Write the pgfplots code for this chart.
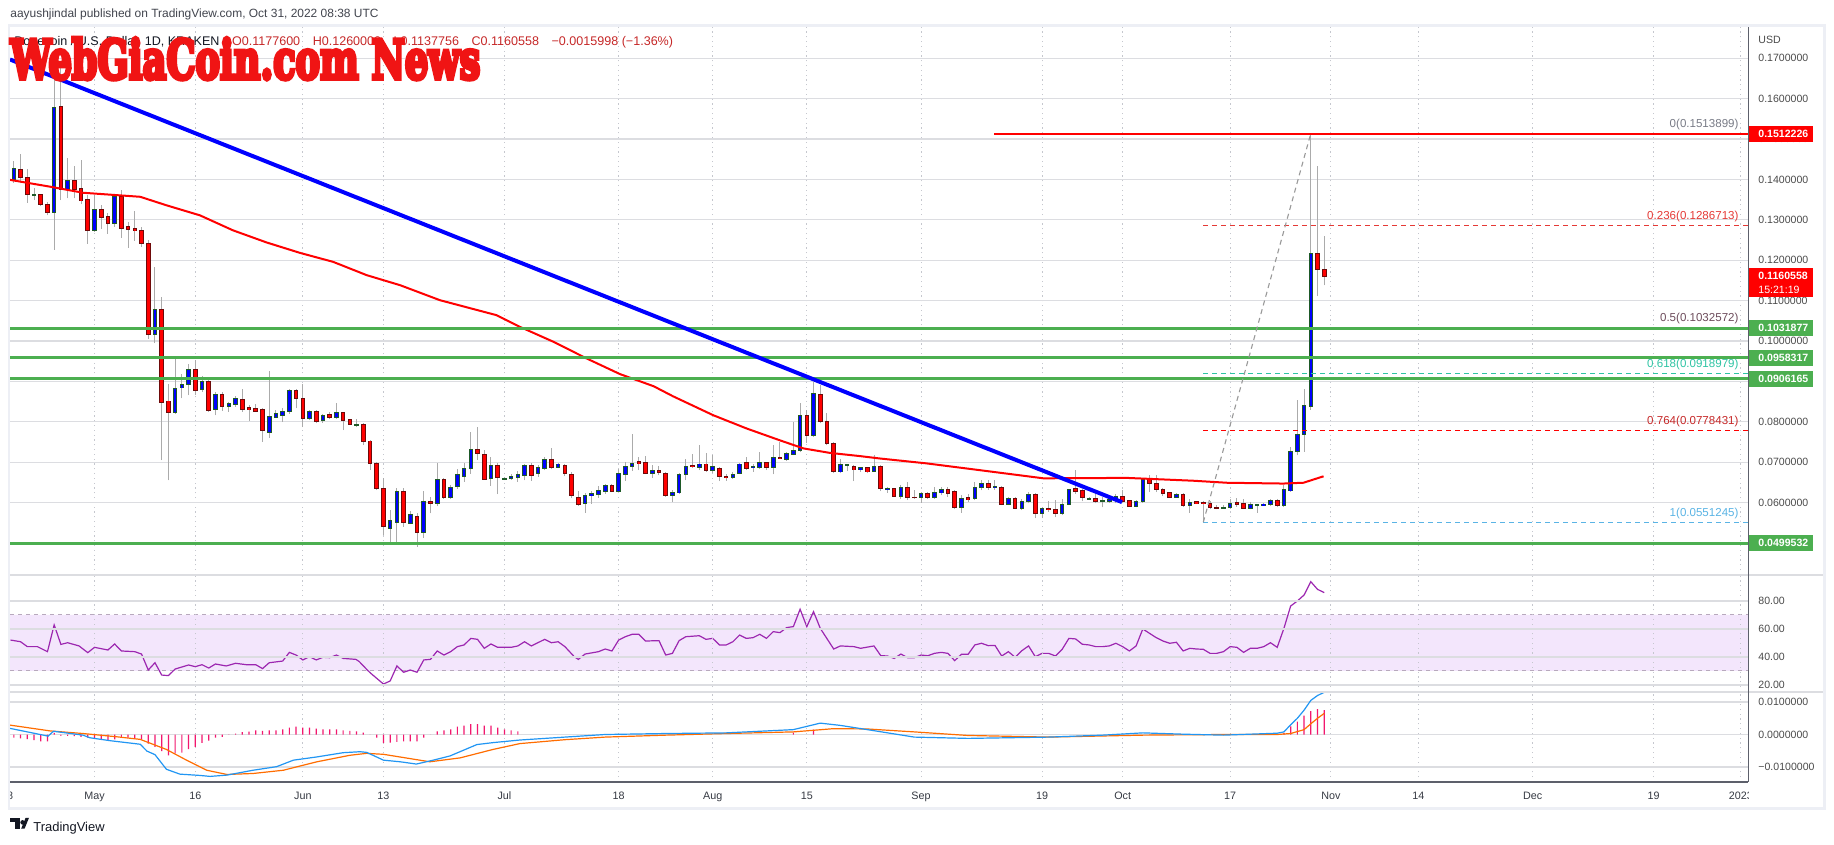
\documentclass[border=0pt]{standalone}
\usepackage{pgfplots}
\pgfplotsset{compat=1.18}
\usepackage{pgfplotstable}
\usepackage{fontspec}
\setmainfont{Liberation Sans}
\newfontfamily\wmfont{DejaVu Serif}[BoldFeatures={FakeBold=8}]

\definecolor{upfill}{HTML}{0000FF}
\definecolor{upedge}{HTML}{1E5A28}
\definecolor{dnfill}{HTML}{FF0000}
\definecolor{dnedge}{HTML}{6E0A0A}
\definecolor{wick}{HTML}{ABABAB}
\definecolor{hgrid}{HTML}{DCDDE1}
\definecolor{vgrid}{HTML}{C5C7CE}
\definecolor{lvl}{HTML}{4CAF50}
\definecolor{scaletxt}{HTML}{4A4A4A}
\definecolor{framec}{HTML}{EDEFF5}
\definecolor{rsic}{HTML}{9C27B0}
\definecolor{rsiband}{HTML}{F3E6FC}
\definecolor{bandline}{HTML}{B8A9BD}
\definecolor{macdc}{HTML}{2196F3}
\definecolor{sigc}{HTML}{FF6D00}
\definecolor{histc}{HTML}{F2176E}
\definecolor{txtc}{HTML}{131722}
\definecolor{fibgray}{HTML}{787B86}
\definecolor{fibred}{HTML}{E53935}
\definecolor{fibmauve}{HTML}{6D4C5B}
\definecolor{fibteal}{HTML}{2EC4A4}
\definecolor{fibdred}{HTML}{C62828}
\definecolor{fibblue}{HTML}{5AB4E5}
\definecolor{axisc}{HTML}{5D606B}

% daily candles, d = days since 1 May 2022
\pgfplotstableread{
d O H L C
-12 0.1400 0.1445 0.1392 0.1427
-9 0.1362 0.1380 0.1349 0.1363
-6 0.1318 0.1660 0.1226 0.1578
-4 0.1376 0.1454 0.1353 0.1398
0 0.1273 0.1361 0.1270 0.1325
3 0.1291 0.1365 0.1283 0.1358
9 0.1016 0.1182 0.0995 0.1078
12 0.0823 0.0957 0.0820 0.0882
13 0.0884 0.0919 0.0858 0.0892
14 0.0892 0.0944 0.0866 0.0929
16 0.0880 0.0913 0.0874 0.0899
18 0.0830 0.0874 0.0816 0.0866
20 0.0837 0.0849 0.0825 0.0844
21 0.0844 0.0863 0.0837 0.0858
26 0.0775 0.0925 0.0761 0.0812
27 0.0812 0.0830 0.0811 0.0819
28 0.0816 0.0835 0.0800 0.0826
29 0.0826 0.0882 0.0820 0.0878
32 0.0808 0.0829 0.0804 0.0826
34 0.0804 0.0820 0.0797 0.0816
36 0.0811 0.0847 0.0808 0.0823
39 0.0791 0.0808 0.0787 0.0792
44 0.0537 0.0581 0.0498 0.0554
45 0.0552 0.0637 0.0503 0.0628
47 0.0549 0.0579 0.0546 0.0569
49 0.0527 0.0628 0.0513 0.0602
51 0.0598 0.0698 0.0591 0.0656
53 0.0614 0.0644 0.0610 0.0637
54 0.0639 0.0684 0.0634 0.0668
55 0.0666 0.0698 0.0651 0.0684
56 0.0684 0.0775 0.0671 0.0730
59 0.0659 0.0712 0.0642 0.0692
61 0.0659 0.0662 0.0655 0.0660
62 0.0660 0.0670 0.0656 0.0664
63 0.0662 0.0678 0.0651 0.0670
64 0.0667 0.0696 0.0655 0.0692
66 0.0672 0.0692 0.0664 0.0686
67 0.0684 0.0712 0.0680 0.0705
69 0.0688 0.0698 0.0685 0.0695
73 0.0597 0.0623 0.0575 0.0617
74 0.0617 0.0629 0.0597 0.0622
75 0.0621 0.0642 0.0612 0.0629
76 0.0628 0.0647 0.0622 0.0642
78 0.0628 0.0682 0.0626 0.0672
79 0.0671 0.0700 0.0654 0.0689
80 0.0689 0.0769 0.0679 0.0697
83 0.0672 0.0694 0.0661 0.0680
86 0.0617 0.0631 0.0601 0.0625
87 0.0624 0.0674 0.0621 0.0670
88 0.0670 0.0709 0.0655 0.0690
90 0.0688 0.0743 0.0680 0.0695
92 0.0679 0.0717 0.0672 0.0688
95 0.0662 0.0676 0.0659 0.0670
96 0.0672 0.0699 0.0670 0.0695
98 0.0686 0.0696 0.0676 0.0690
99 0.0688 0.0725 0.0684 0.0699
101 0.0688 0.0742 0.0670 0.0711
103 0.0708 0.0724 0.0703 0.0720
104 0.0720 0.0800 0.0717 0.0729
105 0.0729 0.0847 0.0725 0.0816
107 0.0767 0.0898 0.0763 0.0870
111 0.0676 0.0709 0.0672 0.0694
112 0.0692 0.0694 0.0678 0.0693
114 0.0681 0.0689 0.0676 0.0686
116 0.0678 0.0717 0.0676 0.0690
118 0.0632 0.0638 0.0624 0.0634
120 0.0616 0.0643 0.0610 0.0637
123 0.0612 0.0626 0.0599 0.0621
125 0.0613 0.0638 0.0609 0.0624
126 0.0624 0.0638 0.0618 0.0632
129 0.0588 0.0618 0.0575 0.0610
131 0.0610 0.0651 0.0606 0.0637
132 0.0637 0.0655 0.0630 0.0646
134 0.0638 0.0655 0.0632 0.0640
136 0.0596 0.0614 0.0593 0.0610
138 0.0586 0.0610 0.0581 0.0602
139 0.0602 0.0626 0.0598 0.0620
141 0.0573 0.0590 0.0561 0.0586
144 0.0573 0.0610 0.0569 0.0595
145 0.0595 0.0634 0.0593 0.0632
148 0.0609 0.0614 0.0606 0.0610
150 0.0604 0.0613 0.0588 0.0605
151 0.0604 0.0612 0.0599 0.0608
152 0.0606 0.0622 0.0598 0.0614
155 0.0591 0.0607 0.0588 0.0603
156 0.0602 0.0660 0.0599 0.0657
161 0.0614 0.0624 0.0612 0.0620
163 0.0592 0.0610 0.0575 0.0600
168 0.0587 0.0593 0.0585 0.0588
169 0.0588 0.0610 0.0585 0.0598
172 0.0585 0.0602 0.0583 0.0594
173 0.0593 0.0595 0.0575 0.0594
174 0.0593 0.0600 0.0591 0.0596
175 0.0596 0.0609 0.0592 0.0604
177 0.0592 0.0643 0.0589 0.0631
178 0.0629 0.0738 0.0627 0.0727
179 0.0726 0.0855 0.0717 0.0769
180 0.0768 0.0882 0.0726 0.0839
181 0.0837 0.1514 0.0830 0.1217
}\upc

\pgfplotstableread{
d O H L C
-11 0.1424 0.1464 0.1390 0.1405
-10 0.1405 0.1427 0.1342 0.1363
-8 0.1363 0.1365 0.1334 0.1339
-7 0.1338 0.1344 0.1311 0.1318
-5 0.1581 0.1675 0.1349 0.1376
-3 0.1398 0.1433 0.1353 0.1376
-2 0.1376 0.1448 0.1339 0.1347
-1 0.1349 0.1361 0.1241 0.1273
1 0.1325 0.1336 0.1278 0.1305
2 0.1307 0.1316 0.1266 0.1292
4 0.1358 0.1375 0.1255 0.1280
5 0.1284 0.1295 0.1231 0.1276
6 0.1278 0.1321 0.1248 0.1273
7 0.1274 0.1283 0.1233 0.1241
8 0.1241 0.1250 0.1006 0.1016
10 0.1078 0.1108 0.0705 0.0848
11 0.0851 0.0893 0.0655 0.0823
15 0.0929 0.0952 0.0866 0.0878
17 0.0899 0.0903 0.0825 0.0829
19 0.0866 0.0874 0.0827 0.0837
22 0.0855 0.0882 0.0825 0.0830
23 0.0835 0.0841 0.0802 0.0830
24 0.0833 0.0844 0.0825 0.0827
25 0.0829 0.0835 0.0750 0.0779
30 0.0878 0.0882 0.0833 0.0858
31 0.0858 0.0893 0.0787 0.0808
33 0.0826 0.0829 0.0796 0.0800
35 0.0818 0.0825 0.0808 0.0811
37 0.0823 0.0825 0.0779 0.0804
38 0.0804 0.0808 0.0792 0.0793
40 0.0792 0.0796 0.0742 0.0752
41 0.0752 0.0754 0.0680 0.0697
42 0.0697 0.0701 0.0631 0.0635
43 0.0635 0.0660 0.0519 0.0540
46 0.0628 0.0635 0.0540 0.0551
48 0.0566 0.0573 0.0490 0.0526
50 0.0602 0.0613 0.0573 0.0599
52 0.0656 0.0660 0.0610 0.0614
57 0.0732 0.0787 0.0706 0.0721
58 0.0719 0.0730 0.0656 0.0658
60 0.0692 0.0698 0.0621 0.0662
65 0.0692 0.0698 0.0654 0.0667
68 0.0705 0.0735 0.0682 0.0686
70 0.0692 0.0696 0.0665 0.0672
71 0.0670 0.0676 0.0611 0.0617
72 0.0611 0.0629 0.0592 0.0596
77 0.0642 0.0646 0.0625 0.0628
81 0.0701 0.0712 0.0680 0.0697
82 0.0698 0.0716 0.0670 0.0672
84 0.0680 0.0690 0.0667 0.0675
85 0.0672 0.0676 0.0614 0.0617
89 0.0692 0.0721 0.0685 0.0689
91 0.0695 0.0723 0.0676 0.0679
93 0.0683 0.0688 0.0653 0.0664
94 0.0665 0.0670 0.0654 0.0662
97 0.0699 0.0712 0.0680 0.0684
100 0.0699 0.0700 0.0680 0.0688
102 0.0711 0.0750 0.0707 0.0709
106 0.0816 0.0828 0.0748 0.0767
108 0.0868 0.0891 0.0796 0.0800
109 0.0801 0.0822 0.0742 0.0746
110 0.0746 0.0750 0.0672 0.0678
113 0.0690 0.0692 0.0653 0.0681
115 0.0686 0.0689 0.0672 0.0676
117 0.0690 0.0692 0.0628 0.0634
119 0.0634 0.0636 0.0614 0.0616
121 0.0637 0.0651 0.0606 0.0612
122 0.0613 0.0631 0.0609 0.0612
124 0.0621 0.0626 0.0609 0.0613
127 0.0632 0.0638 0.0614 0.0623
128 0.0628 0.0630 0.0583 0.0588
130 0.0612 0.0622 0.0602 0.0608
133 0.0646 0.0655 0.0632 0.0637
135 0.0638 0.0642 0.0593 0.0596
137 0.0610 0.0614 0.0583 0.0586
140 0.0620 0.0624 0.0561 0.0573
142 0.0586 0.0605 0.0577 0.0582
143 0.0583 0.0606 0.0563 0.0573
146 0.0634 0.0680 0.0622 0.0628
147 0.0630 0.0634 0.0603 0.0612
149 0.0610 0.0630 0.0598 0.0604
153 0.0614 0.0630 0.0598 0.0604
154 0.0604 0.0607 0.0589 0.0591
157 0.0660 0.0668 0.0626 0.0647
158 0.0647 0.0668 0.0626 0.0632
159 0.0632 0.0637 0.0616 0.0622
160 0.0624 0.0626 0.0611 0.0614
162 0.0620 0.0624 0.0589 0.0592
164 0.0602 0.0603 0.0596 0.0598
165 0.0600 0.0603 0.0552 0.0597
166 0.0598 0.0603 0.0583 0.0587
167 0.0587 0.0595 0.0583 0.0586
170 0.0600 0.0612 0.0590 0.0596
171 0.0598 0.0608 0.0583 0.0585
176 0.0604 0.0610 0.0588 0.0592
182 0.1217 0.1433 0.1111 0.1178
183 0.11776 0.1260 0.11378 0.11606
}\dnc

\pgfplotstableread{
d ma
-12.6 0.1399
-6.6 0.1382
-1.7 0.1367
6.8 0.1357
10.7 0.1336
15.7 0.1311
20.6 0.1274
25.6 0.1244
30.6 0.1218
35.5 0.1196
40.5 0.1163
45.5 0.1138
51.4 0.1101
59.8 0.1064
63.3 0.1035
68.3 0.0998
73.2 0.0957
78.2 0.0918
83.2 0.0888
86.1 0.0863
92.1 0.0816
97.1 0.0783
102 0.0754
105.5 0.0734
109.4 0.0723
113.9 0.0715
116.9 0.0709
123.8 0.0697
133.7 0.0676
141.2 0.0660
153.6 0.0661
163.5 0.0654
168.5 0.0649
176.9 0.0647
179.9 0.0649
182.9 0.0665
}\matab

\pgfplotstableread{
d r
-12.5 52.1
-11 50.9
-10 47.4
-8.5 47.4
-7 43.8
-6 62.9
-5 49.0
-4 50.2
-2.3 47.9
-1 43.1
0 46.9
2 45.0
3 49.3
4 44.3
6 43.8
7 42.1
8 30.7
9 35.9
10 27.1
11 26.7
12 31.4
14 34.3
15 33.1
16 34.5
17 32.1
18 35.0
19.6 33.6
21 35.5
22.6 34.5
24 34.5
25 31.7
26 35.9
28 37.1
29 43.3
30 41.4
31 37.9
32 40.2
33 37.9
34 39.8
35 39.5
36 41.4
37 39.0
38.9 38.3
39.4 36.7
40.6 30.7
41.1 28.4
43 20.7
44 22.9
45 33.6
46 29.1
47 30.7
48 29.1
49 37.9
50 38.3
51 44.3
52 41.4
53 43.8
54 47.4
55 48.6
56 53.3
57 52.6
58 46.2
59 49.3
60 46.9
62 46.9
63 47.9
64 50.9
65 47.9
67 52.6
68 50.2
69 50.9
70 47.4
71.4 40.2
72 38.3
73 42.1
75 43.8
76 45.7
77 44.3
78 52.1
79 54.5
80 56.2
81 56.2
82 51.4
84 51.7
85 41.4
86 42.6
87 51.7
88 54.5
90 55.2
91 52.6
92 53.3
93 48.6
94 48.6
95 50.9
96 55.7
97 53.3
98 53.8
99 56.2
100 53.3
101 58.1
102 57.4
103 61.0
104 61.7
105 74.1
106 61.7
107 72.4
108 60.5
110 45.7
111 47.9
113 47.4
114 46.2
116 47.9
117 41.0
118 40.7
119 39.0
120 42.1
121 39.5
122 39.5
123 41.4
124 40.9
125 42.6
126 43.3
127 42.6
128 37.4
129 41.9
130 41.9
131 48.6
132 49.8
133 48.1
134 48.3
135 40.7
136 43.8
137 39.8
138 44.5
139 47.9
140 40.2
141 42.6
142 42.6
143 40.7
144 45.5
145 53.3
146 52.9
147 49.1
148 48.6
149 47.4
150 47.4
151 47.9
152 49.8
153 47.4
154 44.3
155 47.9
156 60.0
157 56.9
158 53.8
159 51.4
160 49.8
161 50.5
162 44.3
163 46.2
164 45.7
165 45.5
166 42.6
167 42.6
168 43.8
169 47.4
170 46.9
171 43.3
172 46.2
173 46.2
174 47.4
175 50.2
176 46.9
177 60.5
178 76.4
179 80.0
180 84.3
181 93.8
182 88.3
183 86.0
}\rsitab

\pgfplotstableread{
d m
-12.6 0.0019
-6.9 -0.0005
-6.1 0.0010
-1.7 -0.0002
-0.7 -0.0010
2.3 -0.0019
6.8 -0.0030
7.8 -0.0051
9.0 -0.0062
10.7 -0.0107
12.7 -0.0122
15.7 -0.0126
17.2 -0.0129
19.7 -0.0125
23.6 -0.0110
27.1 -0.0099
29.6 -0.0079
33.1 -0.0069
37.0 -0.0056
39.5 -0.0053
40.5 -0.0055
43.0 -0.0079
45.5 -0.0084
47.9 -0.0091
50.4 -0.0079
52.9 -0.0066
56.9 -0.0031
59.3 -0.0025
63.3 -0.0017
70 -0.0008
76 0.0000
85 0.0003
94 0.0005
104 0.0015
108 0.0035
111 0.0028
115 0.0015
122 -0.0008
130 -0.0012
142 -0.0008
150 -0.0002
156 0.0005
162 0.0001
168 -0.0002
176 0.0004
177 0.0008
178 0.0030
179 0.0050
180 0.0075
181 0.0105
182 0.0120
183 0.0130
}\macdtab

\pgfplotstableread{
d s
-12.6 0.0029
-6.6 0.0011
-1.7 0.0003
3.3 -0.0007
6.8 -0.0015
10.7 -0.0046
13.7 -0.0079
16.7 -0.0110
19.7 -0.0123
23.6 -0.0120
28.1 -0.0110
33.1 -0.0084
38.0 -0.0064
40.5 -0.0058
43.0 -0.0061
46.9 -0.0074
49.9 -0.0084
54.4 -0.0072
59.3 -0.0046
63.3 -0.0028
70 -0.0016
76 -0.0008
85 -0.0002
94 0.0003
104 0.0008
110 0.0018
115 0.0017
122 0.0008
130 -0.0003
142 -0.0008
156 -0.0002
168 0.0000
176 0.0000
178 0.0003
180 0.0015
181 0.0033
182 0.0050
183 0.0065
}\sigtab

\pgfplotstableread{
d h
-12 -0.0010
-11 -0.0012
-10 -0.0014
-9 -0.0017
-8 -0.0021
-7 -0.0021
-6 0.0005
-5 -0.0004
-4 -0.0004
-3 -0.0005
-2 -0.0007
-1 -0.0010
0 -0.0012
1 -0.0014
2 -0.0019
3 -0.0015
4 -0.0010
5 -0.0010
6 -0.0012
7 -0.0015
8 -0.0028
9 -0.0038
10 -0.0051
11 -0.0064
12 -0.0058
13 -0.0056
14 -0.0045
15 -0.0038
16 -0.0026
17 -0.0019
18 -0.0010
19 -0.0007
20 -0.0001
21 0.0003
22 0.0007
23 0.0009
24 0.0013
25 0.0011
26 0.0013
27 0.0013
28 0.0016
29 0.0021
30 0.0024
31 0.0021
32 0.0021
33 0.0018
34 0.0016
35 0.0016
36 0.0016
37 0.0013
38 0.0011
39 0.0010
40 0.0006
41 0.0000
42 -0.0010
43 -0.0026
44 -0.0025
45 -0.0023
46 -0.0021
47 -0.0021
48 -0.0021
49 -0.0010
50 0.0000
51 0.0010
52 0.0013
53 0.0016
54 0.0024
55 0.0027
56 0.0032
57 0.0032
58 0.0027
59 0.0027
60 0.0021
61 0.0016
62 0.0013
63 0.0010
104 0.0006
107 0.0015
177 0.0005
178 0.0025
179 0.0040
180 0.0058
181 0.0072
182 0.0078
183 0.0075
}\histtab

\pgfplotsset{
  panel/.style={
    scale only axis, width=869bp,
    xmin=-12.574, xmax=246.06,
    axis line style={draw=none}, tick style={draw=none},
    xtick={0,15,31,43,61,78,92,106,123,141,153,169,184,197,214,232,245},
    xticklabel={\relax},
    scaled x ticks=false, scaled y ticks=false,
    xmajorgrids, ymajorgrids,
    x grid style={vgrid, line width=0.5bp, dash pattern=on 0.6bp off 1.8bp},
    y grid style={hgrid, line width=0.6bp},
    yticklabel pos=right,
    yticklabel style={anchor=west, inner sep=0pt, xshift=5bp,
      font=\fontsize{5.3}{6}\selectfont, text=scaletxt},
    clip mode=individual},
  wicks/.style={draw=none, error bars/.cd, y dir=plus, y explicit,
    error mark=none, error bar style={draw=wick, line width=0.5bp}},
  bodyout/.style={draw=none, error bars/.cd, y dir=both, y explicit,
    error mark=none, error bar style={draw=#1, line width=2.3bp}},
  bodyin/.style={draw=none, error bars/.cd, y dir=both, y explicit,
    error mark=none, error bar style={draw=#1, line width=1.3bp}},
}

\newcommand{\pricetag}[3]{%
  \fill[#1] ({rel axis cs:1,0}|-{axis cs:0,#2}) ++(0.5bp,-4.1bp) rectangle ++(32bp,8.2bp);
  \node[anchor=west, inner sep=0pt, xshift=5bp, text=white,
    font=\bfseries\fontsize{5.3}{6}\selectfont] at ({rel axis cs:1,0}|-{axis cs:0,#2}) {#3};}
\newcommand{\fiblabel}[3]{%
  \node[anchor=south east, inner sep=0pt, yshift=1.6bp, text=#1,
    font=\fontsize{5.8}{6}\selectfont] at (axis cs:244.7,#2) {#3};}

\begin{document}
\begin{tikzpicture}
\useasboundingbox (0,0) rectangle (917bp,422.5bp);
\fill[white] (0,0) rectangle (917bp,422.5bp);

% ---------- price panel ----------
\begin{axis}[panel, at={(5bp,135bp)}, anchor=south west, height=274bp,
  ymin=0.04206, ymax=0.17774,
  ytick={0.05,0.06,0.07,0.08,0.09,0.10,0.11,0.12,0.13,0.14,0.15,0.16,0.17},
  yticklabels={0.0500000,0.0600000,0.0700000,0.0800000,0.0900000,0.1000000,0.1100000,
    0.1200000,0.1300000,0.1400000,0.1500000,0.1600000,0.1700000}]

\addplot[wicks] table[x=d, y=L, y error plus expr=\thisrow{H}-\thisrow{L}] {\upc};
\addplot[wicks] table[x=d, y=L, y error plus expr=\thisrow{H}-\thisrow{L}] {\dnc};
\addplot[bodyout=upedge] table[x=d, y expr=0.5*(\thisrow{O}+\thisrow{C}),
  y error expr={0.5*abs(\thisrow{C}-\thisrow{O})+0.00016}] {\upc};
\addplot[bodyin=upfill] table[x=d, y expr=0.5*(\thisrow{O}+\thisrow{C}),
  y error expr={max(0.5*abs(\thisrow{C}-\thisrow{O})-0.00008,0)}] {\upc};
\addplot[bodyout=dnedge] table[x=d, y expr=0.5*(\thisrow{O}+\thisrow{C}),
  y error expr={0.5*abs(\thisrow{C}-\thisrow{O})+0.00016}] {\dnc};
\addplot[bodyin=dnfill] table[x=d, y expr=0.5*(\thisrow{O}+\thisrow{C}),
  y error expr={max(0.5*abs(\thisrow{C}-\thisrow{O})-0.00008,0)}] {\dnc};

% moving average
\addplot[red, line width=1bp] table[x=d, y=ma] {\matab};

% support levels
\addplot[lvl, line width=1.4bp] coordinates {(-12.574,0.1031877) (246.06,0.1031877)};
\addplot[lvl, line width=1.4bp] coordinates {(-12.574,0.0958317) (246.06,0.0958317)};
\addplot[lvl, line width=1.4bp] coordinates {(-12.574,0.0906165) (246.06,0.0906165)};
\addplot[lvl, line width=1.4bp] coordinates {(-12.574,0.0499532) (246.06,0.0499532)};
\addplot[red, line width=1bp] coordinates {(133.9,0.1512226) (246.06,0.1512226)};

% fibonacci levels
\addplot[fibred, line width=0.55bp, dash pattern=on 2.5bp off 2bp] coordinates {(165,0.1286713) (246.06,0.1286713)};
\addplot[fibteal, line width=0.55bp, dash pattern=on 2.5bp off 2bp] coordinates {(165,0.0918979) (246.06,0.0918979)};
\addplot[red, line width=0.55bp, dash pattern=on 2.5bp off 2bp] coordinates {(165,0.0778431) (246.06,0.0778431)};
\addplot[fibblue, line width=0.55bp, dash pattern=on 2.5bp off 2bp] coordinates {(165,0.0551245) (246.06,0.0551245)};
\addplot[gray!80, line width=0.55bp, dash pattern=on 2.5bp off 2bp] coordinates {(165,0.0551245) (181,0.1513899)};

% descending trend line
\addplot[blue, line width=2bp] coordinates {(-12.574,0.1697) (152.9,0.0601)};

\fiblabel{fibgray}{0.1513899}{0(0.1513899)}
\fiblabel{fibred}{0.1286713}{0.236(0.1286713)}
\fiblabel{fibmauve}{0.1032572}{0.5(0.1032572)}
\fiblabel{fibteal}{0.0918979}{0.618(0.0918979)}
\fiblabel{fibdred}{0.0778431}{0.764(0.0778431)}
\fiblabel{fibblue}{0.0551245}{1(0.0551245)}

\pricetag{red}{0.1512226}{0.1512226}
\fill[red] ({rel axis cs:1,0}|-{axis cs:0,0.1160558}) ++(0.5bp,4.1bp) rectangle ++(32bp,-14.5bp);
\node[anchor=west, inner sep=0pt, xshift=5bp, text=white, font=\bfseries\fontsize{5.3}{6}\selectfont]
  at ({rel axis cs:1,0}|-{axis cs:0,0.1160558}) {0.1160558};
\node[anchor=west, inner sep=0pt, xshift=5bp, yshift=-7bp, text=white, font=\fontsize{5.3}{6}\selectfont]
  at ({rel axis cs:1,0}|-{axis cs:0,0.1160558}) {15:21:19};
\pricetag{lvl}{0.1031877}{0.1031877}
\pricetag{lvl}{0.0958317}{0.0958317}
\pricetag{lvl}{0.0906165}{0.0906165}
\pricetag{lvl}{0.0499532}{0.0499532}
\end{axis}

% ---------- RSI panel ----------
\begin{axis}[panel, at={(5bp,76.5bp)}, anchor=south west, height=58.5bp,
  ymin=15, ymax=98.57, axis on top,
  ytick={20,40,60,80}, yticklabels={20.00,40.00,60.00,80.00}]
\addplot[fill=rsiband, draw=none] coordinates {(-12.574,30) (-12.574,70) (246.06,70) (246.06,30) (-12.574,30)};
\addplot[bandline, line width=0.5bp, dash pattern=on 2bp off 2bp] coordinates {(-12.574,70) (246.06,70)};
\addplot[bandline, line width=0.5bp, dash pattern=on 2bp off 2bp] coordinates {(-12.574,30) (246.06,30)};
\addplot[rsic, line width=0.6bp] table[x=d, y=r] {\rsitab};
\end{axis}

% ---------- MACD panel ----------
\begin{axis}[panel, at={(5bp,31.5bp)}, anchor=south west, height=45bp,
  ymin=-0.01462, ymax=0.01308,
  ytick={-0.01,0,0.01}, yticklabels={−0.0100000,0.0000000,0.0100000},
  xticklabels={May,16,Jun,13,Jul,18,Aug,15,Sep,19,Oct,17,Nov,14,Dec,19,2023},
  xticklabel style={anchor=base, yshift=-8.7bp, font=\fontsize{5.4}{6}\selectfont, text=txtc!85}]
\addplot[ybar, bar width=0.6bp, bar shift=0pt, fill=histc, draw=none] table[x=d, y=h] {\histtab};
\addplot[sigc, line width=0.6bp] table[x=d, y=s] {\sigtab};
\addplot[macdc, line width=0.6bp] table[x=d, y=m] {\macdtab};
\end{axis}

% ---------- frame, scale lines and texts ----------
\fill[white] (874.3bp,18.9bp) rectangle (911.6bp,31.2bp);
\begin{scope}
\clip (5.1bp,10bp) rectangle (30bp,30bp);
\node[anchor=base, inner sep=0pt, text=txtc!85, font=\fontsize{5.4}{6}\selectfont] at (3.55bp,22.8bp) {18};
\end{scope}
\draw[hgrid, line width=0.8bp] (5bp,135bp) -- (912bp,135bp);
\draw[hgrid, line width=0.8bp] (5bp,76.5bp) -- (912bp,76.5bp);
\draw[axisc, line width=0.6bp] (5bp,31.5bp) -- (874bp,31.5bp);
\draw[axisc, line width=0.5bp] (874bp,409bp) -- (874bp,31.5bp);
\draw[framec, line width=1.3bp] (4.4bp,18.25bp) rectangle (912.25bp,409.75bp);
\node[anchor=west, inner sep=0pt, text=scaletxt, font=\fontsize{5.3}{6}\selectfont] at (879bp,402.5bp) {USD};

\node[anchor=base west, inner sep=0pt, text=txtc!80, font=\fontsize{6}{7}\selectfont] at (5bp,413.5bp)
  {aayushjindal published on TradingView.com, Oct 31, 2022 08:38 UTC};
\node[anchor=west, inner sep=0pt, font=\fontsize{6.3}{7}\selectfont] at (7bp,401.5bp)
  {\textcolor{txtc}{Dogecoin / U.S. Dollar, 1D, KRAKEN}\quad
   \textcolor{fibdred}{O0.1177600\quad H0.1260000\quad L0.1137756\quad C0.1160558\quad −0.0015998 (−1.36\%)}};
\node[anchor=south west, inner sep=0pt, text={rgb,255:red,240;green,20;blue,20}] at (5bp,382.5bp)
  {\resizebox{235bp}{20.5bp}{\wmfont\bfseries WebGiaCoin.com News}};

\fill[txtc] (5bp,11.3bp) rectangle (9.8bp,13.6bp);
\fill[txtc] (7.4bp,8.2bp) rectangle (9.8bp,11.3bp);
\fill[txtc] (11.3bp,11.3bp) circle (1.15bp);
\fill[txtc] (12.3bp,8.2bp) -- (14.5bp,13.6bp) -- (12.8bp,13.6bp) -- (10.6bp,8.2bp) -- cycle;
\node[anchor=base west, inner sep=0pt, text=txtc, font=\fontsize{6.5}{7}\selectfont] at (16.5bp,7bp) {TradingView};
\end{tikzpicture}
\end{document}
